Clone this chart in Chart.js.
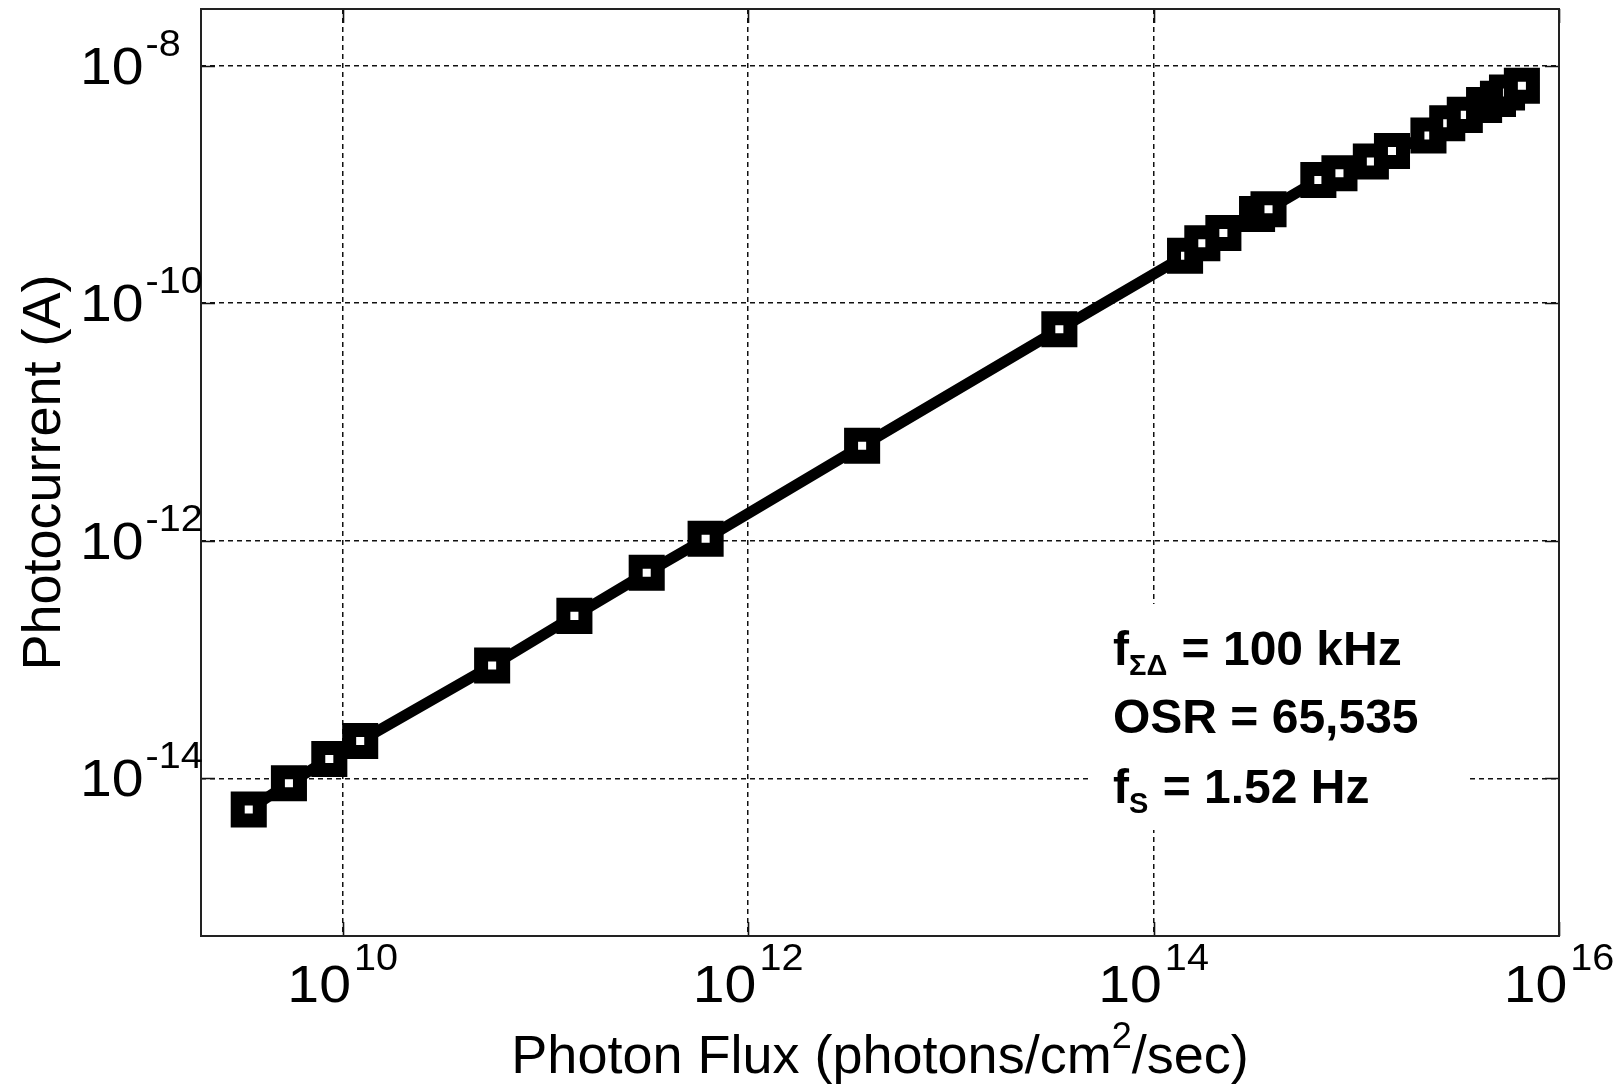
<!DOCTYPE html>
<html>
<head>
<meta charset="utf-8">
<title>Photocurrent vs Photon Flux</title>
<script src="https://cdn.jsdelivr.net/npm/chart.js@4.4.1/dist/chart.umd.min.js"></script>
<style>
  html, body { margin: 0; padding: 0; background: #ffffff; }
  #wrap { width: 1618px; height: 1086px; position: relative; }
</style>
</head>
<body>
<div id="wrap"><canvas id="chart"></canvas></div>
<script>
// Measured photocurrent (A) against incident photon flux (photons/cm^2/sec)
const photonFlux = [
  3.44e9, 5.43e9, 8.59e9, 1.22e10, 5.46e10, 1.39e11, 3.16e11, 6.17e11,
  3.65e12, 3.43e13, 1.43e14, 1.74e14, 2.21e14, 3.24e14, 3.69e14, 6.50e14,
  8.26e14, 1.18e15, 1.50e15, 2.27e15, 2.81e15, 3.43e15, 4.27e15, 5.00e15,
  5.54e15, 6.56e15
];
const photocurrent = [
  5.46e-15, 9.08e-15, 1.455e-14, 2.06e-14, 8.89e-14, 2.33e-13, 5.38e-13, 1.04e-12,
  6.31e-12, 6.04e-11, 2.51e-10, 3.20e-10, 3.90e-10, 5.64e-10, 6.18e-10, 1.09e-9,
  1.24e-9, 1.56e-9, 1.91e-9, 2.58e-9, 3.27e-9, 3.85e-9, 4.67e-9, 5.25e-9,
  5.94e-9, 6.77e-9
];

// Axis ranges and decade ticks
const xRange = [2e9, 1e16];
const yRange = [4.7e-16, 3e-8];
const xTickValues = [1e10, 1e12, 1e14, 1e16];
const yTickValues = [1e-14, 1e-12, 1e-10, 1e-8];

// Axis titles
const xTitle = { main: 'Photon Flux (photons/cm', sup: '2', tail: '/sec)' };
const yTitle = 'Photocurrent (A)';

// Operating conditions listed inside the plot
const noteLines = [
  [{ t: 'f' }, { t: 'ΣΔ', sub: true }, { t: ' = 100 kHz' }],
  [{ t: 'OSR = 65,535' }],
  [{ t: 'f' }, { t: 'S', sub: true }, { t: ' = 1.52 Hz' }]
];

const FONT = "'Liberation Sans', Arial, Helvetica, sans-serif";
const expOf = v => String(Math.round(Math.log10(v)));

// Tick labels are set slightly wide
const TICK_STRETCH = 1.1;
function wideText(ctx, text, x, y) {
  ctx.save();
  ctx.translate(x, y);
  ctx.scale(TICK_STRETCH, 1);
  ctx.fillText(text, 0, 0);
  ctx.restore();
}
const wideWidth = (ctx, text) => ctx.measureText(text).width * TICK_STRETCH;

// Frame, inward tick marks, power-of-ten labels, titles and the note box
const decorations = {
  id: 'decorations',
  afterDraw(chart) {
    const ctx = chart.ctx;
    const { left, right, top, bottom } = chart.chartArea;
    const xs = chart.scales.x, ys = chart.scales.y;
    ctx.save();

    // inward tick marks on all four sides
    ctx.strokeStyle = '#111';
    ctx.lineWidth = 1.6;
    ctx.setLineDash([]);
    const tl = 14;
    ctx.beginPath();
    xTickValues.forEach(v => {
      const px = Math.round(xs.getPixelForValue(v)) + 0.5;
      ctx.moveTo(px, bottom); ctx.lineTo(px, bottom - tl);
      ctx.moveTo(px, top); ctx.lineTo(px, top + tl);
    });
    yTickValues.forEach(v => {
      const py = Math.round(ys.getPixelForValue(v)) + 0.5;
      ctx.moveTo(left, py); ctx.lineTo(left + tl, py);
      ctx.moveTo(right, py); ctx.lineTo(right - tl, py);
    });
    ctx.stroke();

    // axes box
    ctx.lineWidth = 2;
    ctx.strokeStyle = '#222';
    ctx.strokeRect(left, top, right - left, bottom - top);

    ctx.fillStyle = '#000';
    ctx.textBaseline = 'alphabetic';
    ctx.textAlign = 'left';

    // x tick labels: 10^n centred under each tick
    const baseFont = '52px ' + FONT;
    const supFont = '36px ' + FONT;
    xTickValues.forEach(v => {
      const px = xs.getPixelForValue(v);
      ctx.font = baseFont;
      const wb = wideWidth(ctx, '10');
      ctx.font = supFont;
      const e = expOf(v);
      const we = wideWidth(ctx, e);
      const gap = 3;
      const x0 = px - (wb + gap + we) / 2;
      ctx.font = baseFont;
      wideText(ctx, '10', x0, bottom + 66);
      ctx.font = supFont;
      wideText(ctx, e, x0 + wb + gap, bottom + 34);
    });

    // y tick labels: base aligned on a common left edge
    yTickValues.forEach(v => {
      const py = ys.getPixelForValue(v);
      ctx.font = baseFont;
      const xb = 80;
      const wb = wideWidth(ctx, '10');
      wideText(ctx, '10', xb, py + 18);
      ctx.font = supFont;
      wideText(ctx, expOf(v), xb + wb + 2, py - 10);
    });

    // x axis title with superscript
    const tf = '54px ' + FONT;
    const tsf = '36px ' + FONT;
    ctx.font = tf;
    const w1 = ctx.measureText(xTitle.main).width;
    const w3 = ctx.measureText(xTitle.tail).width;
    ctx.font = tsf;
    const w2 = ctx.measureText(xTitle.sup).width;
    const cx = (left + right) / 2;
    let tx = cx - (w1 + w2 + w3) / 2;
    const ty = 1073;
    ctx.font = tf; ctx.fillText(xTitle.main, tx, ty); tx += w1;
    ctx.font = tsf; ctx.fillText(xTitle.sup, tx, ty - 25); tx += w2;
    ctx.font = tf; ctx.fillText(xTitle.tail, tx, ty);

    // y axis title, rotated
    ctx.save();
    ctx.translate(60, (top + bottom) / 2);
    ctx.rotate(-Math.PI / 2);
    ctx.font = tf;
    ctx.textAlign = 'center';
    ctx.fillText(yTitle, 0, 0);
    ctx.restore();

    // note box (white background hides grid lines behind it)
    ctx.fillStyle = '#fff';
    ctx.fillRect(1092, 604, 374, 226);
    ctx.fillStyle = '#000';
    ctx.textAlign = 'left';
    const nf = 'bold 48px ' + FONT;
    const nsf = 'bold 29px ' + FONT;
    const baselines = [665, 733, 803];
    noteLines.forEach((parts, i) => {
      let x = 1113;
      parts.forEach(p => {
        ctx.font = p.sub ? nsf : nf;
        ctx.fillText(p.t, x, baselines[i] + (p.sub ? 10 : 0));
        x += ctx.measureText(p.t).width + (p.sub ? 1 : 0);
      });
    });

    ctx.restore();
  }
};

const gridCommon = { color: '#111', lineWidth: 1.5, drawTicks: false };

new Chart(document.getElementById('chart'), {
  type: 'scatter',
  data: {
    datasets: [{
      data: photonFlux.map((f, i) => ({ x: f, y: photocurrent[i] })),
      showLine: true,
      tension: 0,
      borderColor: '#000',
      borderWidth: 11,
      borderJoinStyle: 'round',
      pointStyle: 'rect',
      pointRadius: 15.6,
      pointBorderWidth: 14,
      pointBorderColor: '#000',
      pointBackgroundColor: '#fff',
      pointHoverRadius: 15.6
    }]
  },
  options: {
    responsive: true,
    maintainAspectRatio: false,
    animation: false,
    events: [],
    layout: { autoPadding: false, padding: { left: 201, right: 59, top: 9, bottom: 150 } },
    plugins: { legend: { display: false }, tooltip: { enabled: false } },
    scales: {
      x: {
        type: 'logarithmic',
        min: xRange[0], max: xRange[1],
        grid: gridCommon,
        border: { display: false, dash: [5, 4] },
        ticks: { display: false },
        afterBuildTicks: s => { s.ticks = xTickValues.map(v => ({ value: v })); },
        afterFit: s => { s.height = 0; }
      },
      y: {
        type: 'logarithmic',
        min: yRange[0], max: yRange[1],
        grid: gridCommon,
        border: { display: false, dash: [5, 4] },
        ticks: { display: false },
        afterBuildTicks: s => { s.ticks = yTickValues.map(v => ({ value: v })); },
        afterFit: s => { s.width = 0; }
      }
    }
  },
  plugins: [decorations]
});
</script>
</body>
</html>
